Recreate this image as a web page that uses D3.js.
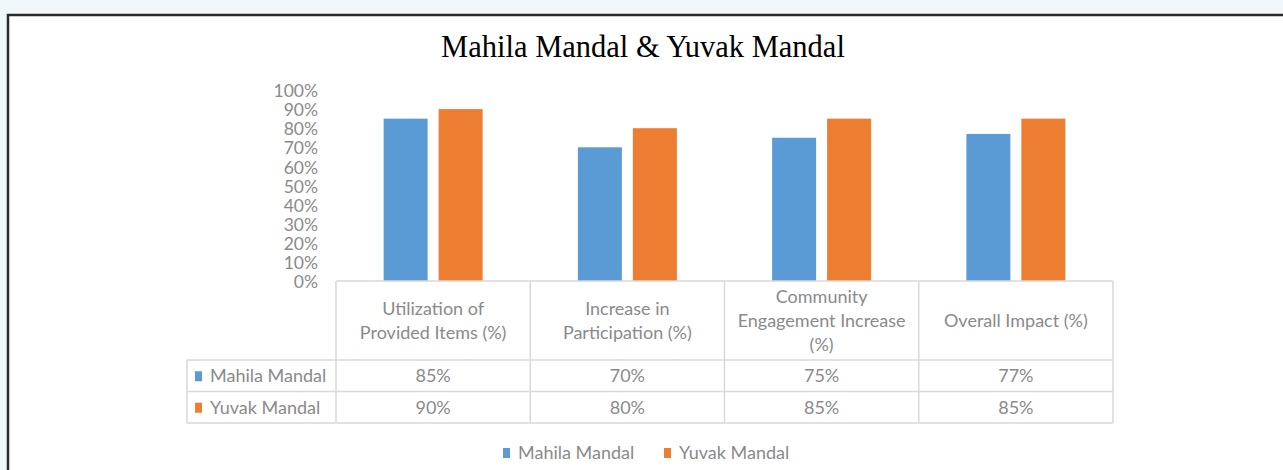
<!DOCTYPE html>
<html>
<head>
<meta charset="utf-8">
<script src="https://cdn.jsdelivr.net/npm/d3@7"></script>
<style>
  body { margin: 0; background: #f0f7fa; }
  svg { display: block; }
</style>
</head>
<body>
<div id="chart"></div>
<script>
// data
var categories = ["Utilization of Provided Items (%)", "Increase in Participation (%)", "Community Engagement Increase (%)", "Overall Impact (%)"];
var categoryLines = [["Utilization of", "Provided Items (%)"], ["Increase in", "Participation (%)"], ["Community", "Engagement Increase", "(%)"], ["Overall Impact (%)"]];
var seriesNames = ["Mahila Mandal", "Yuvak Mandal"];
var mahilaValues = [0.85, 0.70, 0.75, 0.77];
var yuvakValues = [0.90, 0.80, 0.85, 0.85];
var yTicks = [0, 0.1, 0.2, 0.3, 0.4, 0.5, 0.6, 0.7, 0.8, 0.9, 1.0];

var seriesValues = [mahilaValues, yuvakValues];
var colors = ["#5b9bd5", "#ed7d31"];

var w = 1283, h = 470;
var textColor = "#8a8a8a";
var gridColor = "#d9d9d9";
var font = "Lato, 'Open Sans', sans-serif";
var fs = 18;

var svg = d3.select("#chart").append("svg")
  .attr("width", w)
  .attr("height", h);

// white chart area with dark border
svg.append("rect")
  .attr("x", 8).attr("y", 15)
  .attr("width", w + 10).attr("height", h + 10)
  .attr("fill", "#ffffff")
  .attr("stroke", "#2b2b2b")
  .attr("stroke-width", 2.5);

// title
svg.append("text")
  .attr("x", 643).attr("y", 57)
  .attr("text-anchor", "middle")
  .attr("font-family", "'Liberation Serif', 'Times New Roman', serif")
  .attr("font-size", 30.5)
  .attr("fill", "#000")
  .text("Mahila Mandal & Yuvak Mandal");

// scales
var x = d3.scaleBand()
  .domain(categories)
  .range([336, 1113]);

var xInner = d3.scaleBand()
  .domain(seriesNames)
  .range([0, x.bandwidth()])
  .paddingInner(0.2)
  .paddingOuter(0.866);

var y = d3.scaleLinear()
  .domain([0, 1])
  .range([281, 90]);

// y axis
var yAxis = d3.axisLeft(y)
  .tickValues(yTicks)
  .tickFormat(d3.format(".0%"))
  .tickSize(0)
  .tickPadding(0);

var gy = svg.append("g")
  .attr("transform", "translate(318,1)")
  .call(yAxis);
gy.select(".domain").remove();
gy.selectAll("text")
  .attr("font-family", font)
  .attr("font-size", 17.5)
  .attr("fill", textColor);

// bars
var groups = svg.selectAll("g.cat")
  .data(categories)
  .enter()
  .append("g")
  .attr("class", "cat")
  .attr("transform", function(d) { return "translate(" + x(d) + ",0)"; });

groups.selectAll("rect")
  .data(function(d, i) {
    return seriesNames.map(function(s, j) { return { series: s, value: seriesValues[j][i], idx: j }; });
  })
  .enter()
  .append("rect")
  .attr("x", function(d) { return xInner(d.series); })
  .attr("y", function(d) { return y(d.value); })
  .attr("width", xInner.bandwidth())
  .attr("height", function(d) { return y(0) - y(d.value); })
  .attr("fill", function(d) { return colors[d.idx]; });

// data table
var headerTop = y(0), headerBottom = 360, rowH = 31.5;
var tableLeft = 187;
var lines = svg.append("g")
  .attr("stroke", gridColor)
  .attr("stroke-width", 1.5)
  .attr("fill", "none");

// horizontal lines
lines.append("line").attr("x1", x.range()[0]).attr("x2", x.range()[1]).attr("y1", headerTop).attr("y2", headerTop);
[0, 1, 2].forEach(function(k) {
  lines.append("line")
    .attr("x1", tableLeft).attr("x2", x.range()[1])
    .attr("y1", headerBottom + k * rowH).attr("y2", headerBottom + k * rowH);
});
// vertical lines
lines.append("line").attr("x1", tableLeft).attr("x2", tableLeft)
  .attr("y1", headerBottom).attr("y2", headerBottom + 2 * rowH);
categories.forEach(function(c) {
  lines.append("line").attr("x1", x(c)).attr("x2", x(c))
    .attr("y1", headerTop).attr("y2", headerBottom + 2 * rowH);
});
lines.append("line").attr("x1", x.range()[1]).attr("x2", x.range()[1])
  .attr("y1", headerTop).attr("y2", headerBottom + 2 * rowH);

// header labels
var lineH = 24;
svg.selectAll("text.hdr")
  .data(categories)
  .enter()
  .append("text")
  .attr("class", "hdr")
  .attr("text-anchor", "middle")
  .attr("font-family", font)
  .attr("font-size", fs)
  .attr("fill", textColor)
  .each(function(d, i) {
    var ls = categoryLines[i];
    var cx = x(d) + x.bandwidth() / 2;
    var cy = (headerTop + headerBottom) / 2 - (ls.length - 1) * lineH / 2;
    var t = d3.select(this);
    ls.forEach(function(l, k) {
      t.append("tspan")
        .attr("x", cx)
        .attr("y", cy + k * lineH)
        .attr("dy", "0.35em")
        .text(l);
    });
  });

// row labels with keys
seriesNames.forEach(function(s, j) {
  var cy = headerBottom + j * rowH + rowH / 2;
  svg.append("rect")
    .attr("x", 195).attr("y", cy - 4.5)
    .attr("width", 7).attr("height", 10)
    .attr("fill", colors[j]);
  svg.append("text")
    .attr("x", 210).attr("y", cy)
    .attr("dy", "0.35em")
    .attr("font-family", font)
    .attr("font-size", fs)
    .attr("fill", textColor)
    .text(s);
  svg.selectAll("text.val" + j)
    .data(seriesValues[j])
    .enter()
    .append("text")
    .attr("class", "val" + j)
    .attr("x", function(d, i) { return x(categories[i]) + x.bandwidth() / 2; })
    .attr("y", cy)
    .attr("dy", "0.35em")
    .attr("text-anchor", "middle")
    .attr("font-family", font)
    .attr("font-size", fs)
    .attr("fill", textColor)
    .text(d3.format(".0%"));
});

// legend
var legendX = [503, 664];
seriesNames.forEach(function(s, j) {
  svg.append("rect")
    .attr("x", legendX[j]).attr("y", 448)
    .attr("width", 7).attr("height", 10)
    .attr("fill", colors[j]);
  svg.append("text")
    .attr("x", legendX[j] + 15).attr("y", 453)
    .attr("dy", "0.35em")
    .attr("font-family", font)
    .attr("font-size", fs)
    .attr("fill", textColor)
    .text(s);
});
</script>
</body>
</html>
